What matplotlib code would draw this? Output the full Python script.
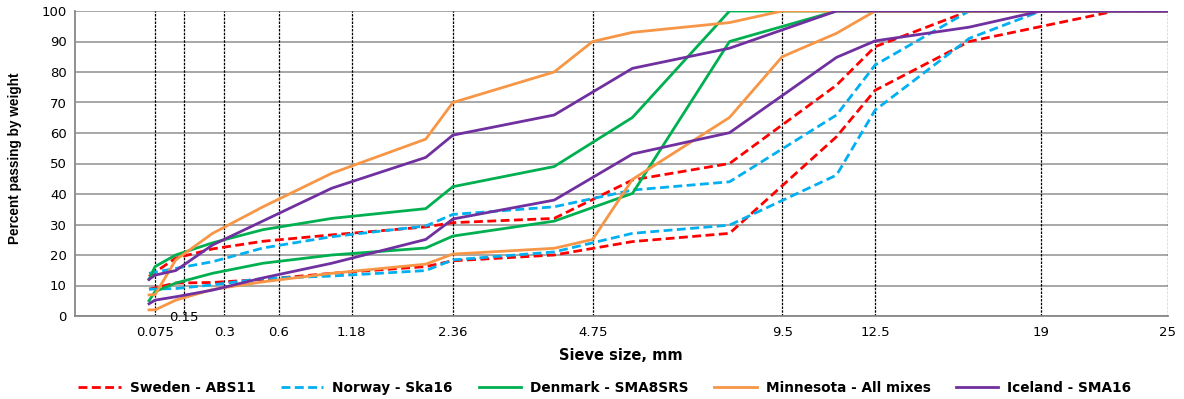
import matplotlib
matplotlib.use("Agg")
import matplotlib.pyplot as plt
from matplotlib.lines import Line2D
import numpy as np

# sieve sizes, mm, for each curve
sieves_se_hi = [0.063, 0.125, 0.25, 0.5, 1, 2, 2.36, 4, 5.6, 8, 11.2, 12.5, 16, 25]
sweden_hi = [13, 19, 22, 24.5, 26.6, 29.2, 30.6, 32, 44.6, 50, 75.7, 88.3, 100, 100]
sieves_se_lo = [0.063, 0.125, 0.25, 0.5, 1, 2, 2.36, 4, 5.6, 8, 11.2, 12.5, 16, 22.4, 25]
sweden_lo = [8.8, 10.8, 11, 12, 14, 16.2, 18.1, 20, 24.4, 27.1, 58.8, 74, 90, 100, 100]

sieves_no_hi = [0.063, 0.125, 0.25, 0.5, 1, 2, 2.36, 4, 5.6, 8, 11.2, 12.5, 16, 25]
norway_hi = [14, 15.6, 17.8, 22.3, 26, 29.5, 33.3, 35.8, 41.3, 44, 65.9, 82.3, 100, 100]
sieves_no_lo = [0.063, 0.125, 0.25, 0.5, 1, 2, 2.36, 4, 5.6, 8, 11.2, 12.5, 16, 19, 25]
norway_lo = [8.8, 9, 10.2, 12.3, 13.1, 14.9, 18.4, 21, 27.1, 29.8, 46.2, 67.5, 91, 100, 100]

sieves_dk_hi = [0.063, 0.075, 0.125, 0.25, 0.5, 1, 2, 2.36, 4, 5.6, 8, 25]
denmark_hi = [12, 16.2, 20, 24, 28.3, 32, 35.2, 42.4, 49, 65.1, 100, 100]
sieves_dk_lo = [0.063, 0.075, 0.125, 0.25, 0.5, 1, 2, 2.36, 4, 5.6, 8, 11.2, 25]
denmark_lo = [5, 8, 10.8, 14, 17.3, 20, 22.3, 26.2, 31.1, 40.2, 90, 100, 100]

sieves_mn_hi = [0.063, 0.075, 0.125, 0.25, 0.5, 1, 2, 2.36, 4, 4.75, 5.6, 8, 9.5, 25]
minnesota_hi = [6.9, 7, 18.4, 27.1, 35.8, 46.8, 58, 70, 80, 90, 93, 96.2, 100, 100]
sieves_mn_lo = [0.063, 0.075, 0.125, 0.25, 0.5, 1, 2, 2.36, 4, 4.75, 5.6, 8, 9.5, 11.2, 12.5, 25]
minnesota_lo = [2, 2, 5.2, 8.7, 11.2, 14, 17, 20.3, 22.2, 25.1, 44.8, 65.1, 85, 92.7, 100, 100]

sieves_is_hi = [0.063, 0.075, 0.125, 0.25, 1, 2, 2.36, 4, 5.6, 8, 11.2, 25]
iceland_hi = [12, 13.4, 14.9, 23.3, 41.9, 52, 59.3, 65.9, 81.2, 87.8, 100, 100]
sieves_is_lo = [0.063, 0.075, 0.125, 0.25, 0.5, 1, 2, 2.36, 4, 5.6, 8, 11.2, 12.5, 16, 19, 25]
iceland_lo = [4, 5.2, 6.3, 8.5, 12.5, 17.3, 25.1, 31.8, 38, 53.1, 60.1, 84.8, 90.2, 94.7, 100, 100]

tick_sieves = [0.075, 0.15, 0.3, 0.6, 1.18, 2.36, 4.75, 9.5, 12.5, 19, 25]
tick_labels = ["0.075", "0.15", "0.3", "0.6", "1.18", "2.36", "4.75", "9.5", "12.5", "19", "25"]

c_red = "#FF0000"
c_blue = "#00B0F0"
c_green = "#00B050"
c_orange = "#F79646"
c_purple = "#7030A0"

W, H = 1184, 399
fig = plt.figure(figsize=(W / 100, H / 100), dpi=100)
ax = fig.add_axes([75 / W, (H - 316) / H, (1168 - 75) / W, (316 - 11) / H])

# 0.45 power x-axis
ax.set_xscale("function", functions=(lambda x: np.abs(x) ** 0.45,
                                      lambda x: np.abs(x) ** (1 / 0.45)))
ax.set_xlim(0, 25)
ax.set_ylim(0, 100)

ax.set_yticks(range(0, 101, 10))
ax.yaxis.grid(True, color="#A0A0A0", lw=1.3)
ax.set_axisbelow(True)
for s in tick_sieves:
    ax.axvline(s, color="black", lw=0.9, ls=(0, (2, 1)), zorder=1.5)

lw = 2.0
dash = (0, (3.2, 1.6))
ax.plot(sieves_se_hi, sweden_hi, color=c_red, lw=lw, ls=dash, zorder=3)
ax.plot(sieves_se_lo, sweden_lo, color=c_red, lw=lw, ls=dash, zorder=3)
ax.plot(sieves_no_hi, norway_hi, color=c_blue, lw=lw, ls=dash, zorder=3)
ax.plot(sieves_no_lo, norway_lo, color=c_blue, lw=lw, ls=dash, zorder=3)
ax.plot(sieves_dk_hi, denmark_hi, color=c_green, lw=lw, zorder=3)
ax.plot(sieves_dk_lo, denmark_lo, color=c_green, lw=lw, zorder=3)
ax.plot(sieves_mn_hi, minnesota_hi, color=c_orange, lw=lw, zorder=3)
ax.plot(sieves_mn_lo, minnesota_lo, color=c_orange, lw=lw, zorder=3)
ax.plot(sieves_is_hi, iceland_hi, color=c_purple, lw=lw, zorder=3)
ax.plot(sieves_is_lo, iceland_lo, color=c_purple, lw=lw, zorder=3)

for side in ["top", "right"]:
    ax.spines[side].set_visible(False)
ax.spines["left"].set_color("#888888")
ax.spines["bottom"].set_color("#888888")
ax.spines["left"].set_linewidth(1.3)
ax.spines["bottom"].set_linewidth(1.3)

ax.set_xticks(tick_sieves)
ax.set_xticklabels(["" if t == "0.15" else t for t in tick_labels])
ax.xaxis.set_minor_locator(matplotlib.ticker.NullLocator())
ax.tick_params(axis="x", length=0, pad=7, labelsize=9.5)
ax.tick_params(axis="y", length=0, pad=6, labelsize=9.5)
ax.text(0.15, -0.6, "0.15", ha="center", va="center", fontsize=9.5)

fig.text(15 / W, 1 - 158 / H, "Percent passing by weight", rotation=90,
         ha="center", va="center", fontsize=9.8, fontweight="bold",
         family=["Liberation Sans Narrow", "Liberation Sans"])
fig.text(621 / W, 1 - 355 / H, "Sieve size, mm", ha="center", va="center",
         fontsize=10.5, fontweight="bold")

handles = [
    Line2D([], [], color=c_red, lw=lw, ls=dash),
    Line2D([], [], color=c_blue, lw=lw, ls=dash),
    Line2D([], [], color=c_green, lw=lw),
    Line2D([], [], color=c_orange, lw=lw),
    Line2D([], [], color=c_purple, lw=lw),
]
labels = ["Sweden - ABS11", "Norway - Ska16", "Denmark - SMA8SRS",
          "Minnesota - All mixes", "Iceland - SMA16"]
fig.legend(handles, labels, loc="center", bbox_to_anchor=(605 / W, 1 - 388 / H),
           ncol=5, frameon=False, handlelength=3.1, columnspacing=1.9,
           handletextpad=0.66, prop={"weight": "bold", "size": 9.8})

fig.savefig("out.png", dpi=100)
